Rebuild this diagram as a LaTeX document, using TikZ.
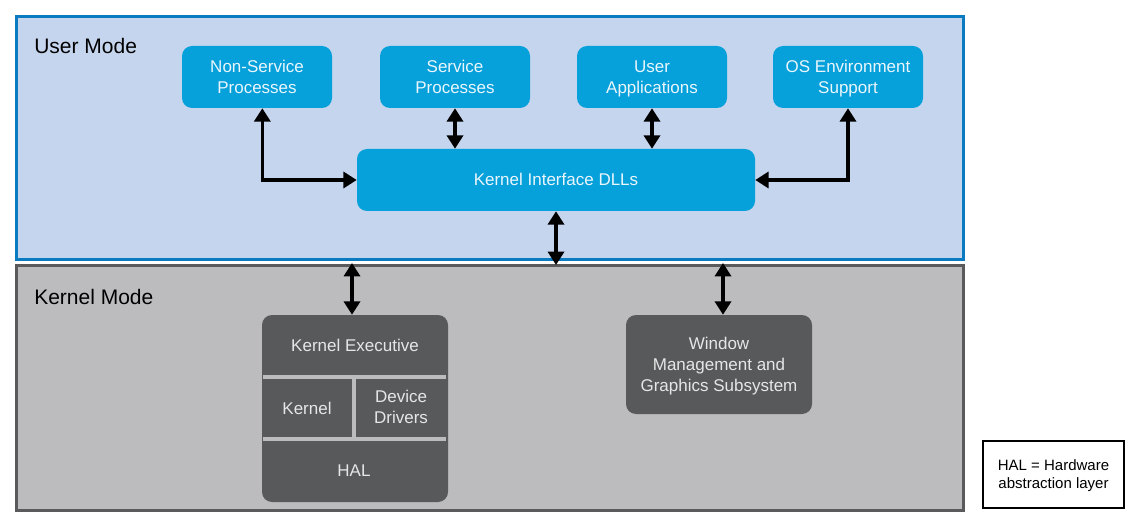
\documentclass[tikz,border=0pt]{standalone}
\usepackage{fontspec}
\setmainfont{Liberation Sans}
\usetikzlibrary{arrows.meta,positioning}

\definecolor{userfill}{HTML}{C5D5EE}
\definecolor{userline}{HTML}{0A7BC0}
\definecolor{kernfill}{HTML}{BCBCBE}
\definecolor{kernline}{HTML}{5A5A5C}
\definecolor{procblue}{HTML}{06A0DA}
\definecolor{darkbox}{HTML}{58595B}
\definecolor{bluetext}{HTML}{EAF6FC}
\definecolor{graytext}{HTML}{E6E6E6}

% struts that centre a line on its letters
\newcommand{\lnstrut}{\rule[-3.25pt]{0pt}{15.5pt}}
\newcommand{\legstrut}{\rule[-2.85pt]{0pt}{13.5pt}}

\tikzset{
  boxfont/.style={font=\fontsize{12.75}{15.5}\selectfont},
  procbox/.style={fill=procblue, rounded corners=7.5pt, text=bluetext, boxfont,
    minimum width=112.5pt, minimum height=46.5pt, align=center, inner sep=0pt},
  darkpart/.style={fill=darkbox, rounded corners=7.5pt, text=graytext, boxfont,
    minimum width=139.5pt, align=center, inner sep=0pt},
  partlabel/.style={text=graytext, boxfont, align=center, inner sep=0pt},
  divider/.style={draw=kernfill, line width=3pt},
  modelabel/.style={anchor=west, font=\fontsize{15.75}{18}\selectfont, inner sep=0pt},
  biarrow/.style={line width=2.6pt,
    {Triangle[width=12pt,length=10pt]}-{Triangle[width=12pt,length=10pt]}}
}

\begin{document}
\begin{tikzpicture}[x=0.75pt,y=-0.75pt]
\useasboundingbox (0,0) rectangle (1138,520);

% the two modes
\draw[fill=userfill, draw=userline, line width=2.25pt] (16.5,16.5) rectangle (963.5,260);
\draw[fill=kernfill, draw=kernline, line width=2.25pt] (16.5,265.5) rectangle (963.5,510.5);
\node[modelabel] (usermode) at (34,46) {User Mode};
\node[modelabel] (kernmode) at (34,297) {Kernel Mode};

% user mode processes
\node[procbox] (nonsvc) at (257,77) {Non-Service\lnstrut\\Processes\lnstrut};
\node[procbox] (svc) at (455,77) {Service\lnstrut\\Processes\lnstrut};
\node[procbox] (apps) at (652,77) {User\lnstrut\\Applications\lnstrut};
\node[procbox] (osenv) at (848,77) {OS Environment\lnstrut\\Support\lnstrut};
\node[procbox, minimum width=298.5pt] (dlls) at (556,180) {Kernel Interface DLLs\lnstrut};

% kernel mode parts
\node[darkpart, minimum height=140.25pt] (kexec) at (355,408.5) {};
\draw[divider] (263,377) -- (446,377);
\draw[divider] (263,439) -- (446,439);
\draw[divider] (354,377) -- (354,439);
\node[partlabel] (kexectext) at (355,345) {Kernel Executive\lnstrut};
\node[partlabel] (kernel) at (307,408) {Kernel\lnstrut};
\node[partlabel] (drivers) at (401,407) {Device\lnstrut\\Drivers\lnstrut};
\node[partlabel] (hal) at (354,470) {HAL\lnstrut};
\node[darkpart, minimum height=74.25pt] (window) at (719,364.5)
  {Window\lnstrut\\Management and\lnstrut\\Graphics Subsystem\lnstrut};

% legend
\node[draw=black, fill=white, line width=1.5pt, minimum width=105.75pt,
  minimum height=50.25pt, align=center, inner sep=0pt,
  font=\fontsize{11.25}{13.5}\selectfont] (legend) at (1053.5,474.5)
  {HAL = Hardware\legstrut\\abstraction layer\legstrut};

% connectors
\coordinate (dllend) at (556,265);
\coordinate (kexecend) at (352,263);
\coordinate (windowend) at (723,263);
\draw[biarrow] ([xshift=4pt]nonsvc.south) |- (dlls.west);
\draw[biarrow] (osenv.south) |- (dlls.east);
\draw[biarrow] (svc.south) -- (svc.south |- dlls.north);
\draw[biarrow] (apps.south) -- (apps.south |- dlls.north);
\draw[biarrow] (dlls.south) -- (dllend);
\draw[biarrow] (kexecend) -- (kexecend |- kexec.north);
\draw[biarrow] (windowend) -- (windowend |- window.north);
\end{tikzpicture}
\end{document}
